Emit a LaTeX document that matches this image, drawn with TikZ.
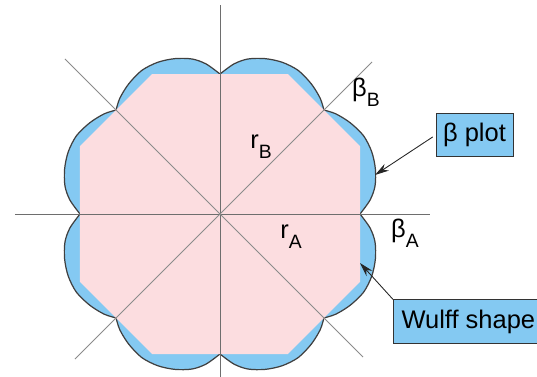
\documentclass[tikz,border=0pt]{standalone}
\usepackage{fontspec}
\setmainfont{Liberation Sans}
\usetikzlibrary{arrows.meta}

\definecolor{lobeblue}{RGB}{132,201,242}
\definecolor{wulffpink}{RGB}{252,221,224}
\definecolor{axisgray}{RGB}{110,110,110}
\newcommand{\lowsub}[1]{\raisebox{-5.5pt}{\fontsize{11}{11}\selectfont #1}}

\begin{document}
\begin{tikzpicture}[x=0.02cm,y=0.02cm,
  axislabel/.style={font=\fontsize{14.5}{17}\selectfont, inner sep=0pt},
  callout/.style={draw=black!80, fill=lobeblue, font=\fontsize{14.5}{17}\selectfont, minimum height=0.87cm, inner sep=0pt},
  pointer/.style={-{Stealth[length=8pt,width=4.5pt]}, black!85, line width=0.5pt}]

\useasboundingbox (-220,-162) rectangle (317,214);
\clip (-220,-162) rectangle (317,214);

\fill[lobeblue, draw=black!75, line width=0.7pt] (0:140)
  \foreach \a in {0,90,180,270} {
    -- plot[smooth] coordinates {(\a:140) (\a+5.3:150.7) (\a+10.2:157.5) (\a+16.2:161.8) (\a+22.3:164) (\a+28.6:163.5) (\a+35:159) (\a+40.8:153.2) (\a+45:147)}
    -- plot[smooth] coordinates {(\a+45:147) (\a+49.2:153.2) (\a+55:159) (\a+61.4:163.5) (\a+67.7:164) (\a+73.8:161.8) (\a+79.8:157.5) (\a+84.7:150.7) (\a+90:140)}
  } -- cycle;

\fill[wulffpink] (140,67.9) -- (67.9,140) -- (-67.9,140) -- (-140,67.9) -- (-140,-67.9) -- (-67.9,-140) -- (67.9,-140) -- (140,-67.9) -- cycle;

\draw[axisgray, line width=0.5pt] (-205,0) -- (210,0);
\draw[axisgray, line width=0.5pt] (0,-170) -- (0,209);
\draw[axisgray!80, line width=0.5pt] (-145,-145) -- (152,152);
\draw[axisgray!80, line width=0.5pt] (-155,155) -- (143,-143);

\node[axislabel] (rB) at (41,67.5) {r\lowsub{B}};
\node[axislabel] (rA) at (71,-22.5) {r\lowsub{A}};
\node[axislabel] (betaB) at (146,122) {β\lowsub{B}};
\node[axislabel] (betaA) at (185,-19.5) {β\lowsub{A}};

\node[callout, minimum width=1.54cm] (plotbox) at (254.5,79) {β plot};
\node[callout, anchor=west, minimum width=3cm] (wulffbox) at (173,-107.5) {Wulff shape};

\coordinate (plottip) at (155,39);
\coordinate (wulfftip) at (140,-49);
\draw[pointer, shorten <=2pt] (plotbox.west) -- (plottip);
\draw[pointer] (wulffbox.north west) -- (wulfftip);

\end{tikzpicture}
\end{document}
